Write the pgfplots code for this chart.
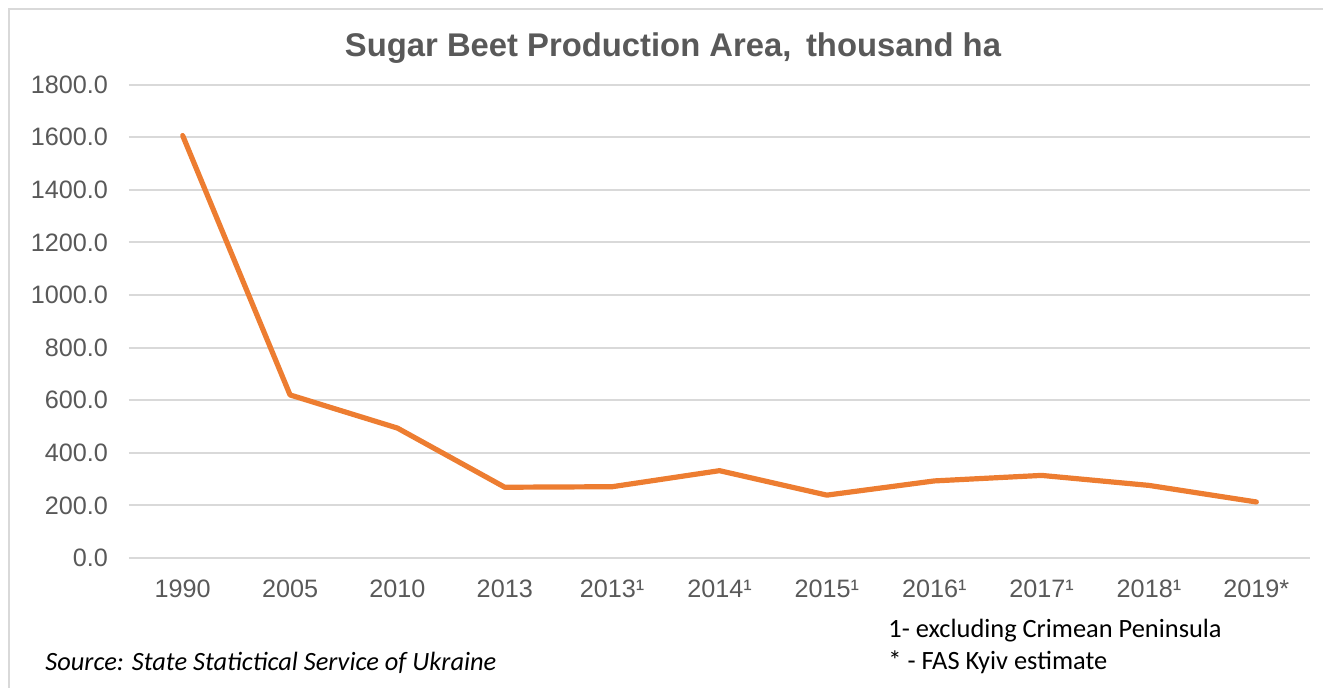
\documentclass[border=0pt]{standalone}
\usepackage{pgfplots}
\pgfplotsset{compat=1.18}
\usepackage{fontspec}
\setmainfont{Liberation Sans}
\newfontfamily\calibri{Carlito}
\definecolor{lineorange}{HTML}{ED7D31}
\definecolor{gridgray}{HTML}{D9D9D9}
\definecolor{textgray}{HTML}{595959}
\begin{document}
\begin{tikzpicture}[x=1pt,y=1pt]
\path[use as bounding box] (0,0) rectangle (661.5,344);
\draw[gridgray, line width=0.8pt] (4.5,0) -- (4.5,339.5) -- (661.5,339.5);
\begin{axis}[
  at={(64.5pt,65pt)}, anchor=south west,
  scale only axis, width=590.5pt, height=236.7pt,
  xmin=-0.5, xmax=10.5, ymin=0, ymax=1800,
  xtick={0,...,10},
  xticklabels={1990,2005,2010,2013,2013¹,2014¹,2015¹,2016¹,2017¹,2018¹,2019*},
  ytick={0,200,...,1800},
  ymajorgrids, grid style={gridgray, line width=1pt},
  axis line style={draw=none},
  major tick length=0pt,
  tick label style={font=\fontsize{12.6}{14}\selectfont, text=textgray},
  xticklabel style={yshift=-7.5pt},
  yticklabel style={xshift=-7pt},
  /pgf/number format/assume math mode=true,
  yticklabel style={/pgf/number format/.cd, fixed, fixed zerofill, precision=1, 1000 sep={}},
  clip=false,
]
\addplot[lineorange, line width=2.6pt, line join=round, line cap=round] coordinates {
  (0,1606) (1,620) (2,494) (3,269) (4,271) (5,332) (6,239) (7,293) (8,314) (9,276) (10,213)
};
\end{axis}
\node[text=textgray, font=\fontsize{16.4}{19}\selectfont\bfseries] at (336.5,320) {Sugar Beet Production Area,\, thousand ha};
\node[anchor=west, inner sep=0pt, font=\calibri\fontsize{13.2}{15}\selectfont] at (444,28.5) {1- excluding Crimean Peninsula};
\node[anchor=west, inner sep=0pt, font=\calibri\fontsize{13.2}{15}\selectfont] at (444,13) {* - FAS Kyiv estimate};
\node[anchor=west, inner sep=0pt, font=\calibri\itshape\fontsize{13.2}{15}\selectfont] at (22.5,12.5) {Source: State Statictical Service of Ukraine};
\end{tikzpicture}
\end{document}
